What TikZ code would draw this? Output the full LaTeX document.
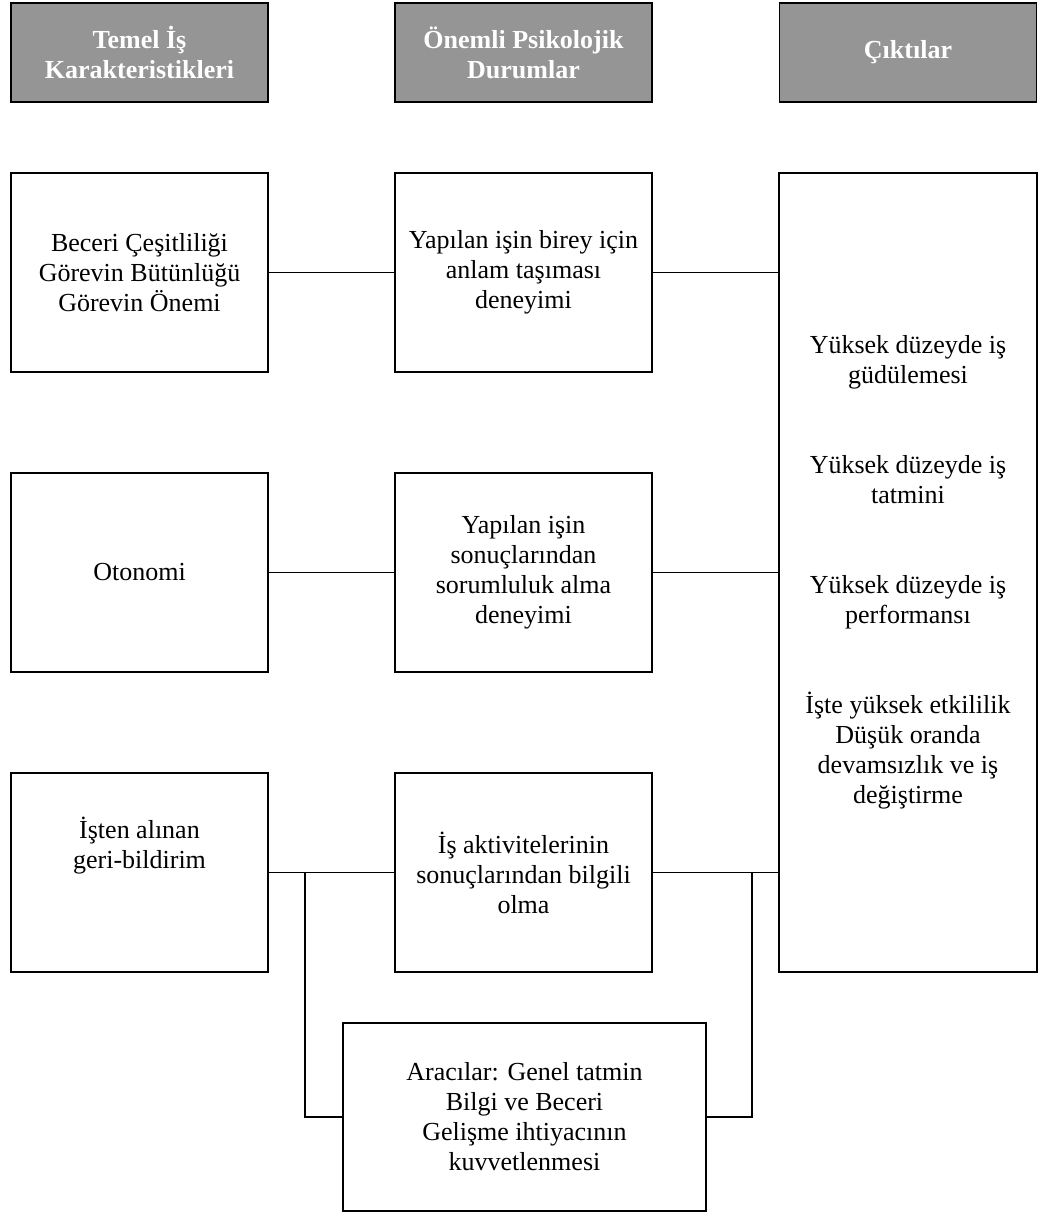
\documentclass[tikz,border=0pt]{standalone}
\usepackage{fontspec}
\setmainfont{Liberation Serif}
\usetikzlibrary{positioning,shadows}
\definecolor{baslikgri}{HTML}{959595}

\begin{document}
\begin{tikzpicture}[x=0.5pt, y=-0.5pt, line width=0.75pt,
  kutu/.style={draw, fill=white, align=center, inner sep=2pt,
    minimum width=128.5pt, minimum height=99.5pt,
    font=\fontsize{13}{15}\selectfont},
  baslik/.style={kutu, fill=baslikgri, minimum height=49.5pt,
    text=white, font=\fontsize{13}{15}\selectfont\bfseries,
    drop shadow={shadow xshift=0.4pt, shadow yshift=-0.6pt, fill=black, opacity=0.6}}]

  \useasboundingbox (0,0) rectangle (1044,1212);

  \newcommand\SolX{139.5}
  \newcommand\OrtaX{523.5}
  \newcommand\SagX{908}

  % basliklar
  \node[baslik] (hSol)  at (\SolX, 52.5)  {Temel İş\\Karakteristikleri};
  \node[baslik] (hOrta) at (\OrtaX, 52.5) {Önemli Psikolojik\\Durumlar};
  \node[baslik] (hSag)  at (\SagX, 52.5)  {Çıktılar};

  % sol sutun
  \node[kutu] (beceri)  at (\SolX, 272.5) {Beceri Çeşitliliği\\Görevin Bütünlüğü\\Görevin Önemi};
  \node[kutu] (otonomi) at (\SolX, 572.5) {Otonomi};
  \node[kutu] (geri)    at (\SolX, 872.5) {İşten alınan\\geri-bildirim\\[15pt]};

  % orta sutun
  \node[kutu] (anlam)  at (\OrtaX, 272.5) {Yapılan işin birey için\\anlam taşıması\\deneyimi};
  \node[kutu] (sorum)  at (\OrtaX, 572.5) {Yapılan işin\\sonuçlarından\\sorumluluk alma\\deneyimi};
  \node[kutu] (bilgi)  at (\OrtaX, 872.5) {İş aktivitelerinin\\sonuçlarından bilgili\\olma};
  \node[kutu, minimum width=181.5pt, minimum height=94pt] (aracilar) at (524.5, 1117)
    {Aracılar: Genel tatmin\\Bilgi ve Beceri\\Gelişme ihtiyacının\\kuvvetlenmesi};

  % sag sutun
  \node[kutu, minimum width=129pt, minimum height=399.5pt] (cikti) at (\SagX, 572.5)
    {Yüksek düzeyde iş\\güdülemesi\\[30pt]
     Yüksek düzeyde iş\\tatmini\\[30pt]
     Yüksek düzeyde iş\\performansı\\[30pt]
     İşte yüksek etkililik\\Düşük oranda\\devamsızlık ve iş\\değiştirme};

  \draw (beceri) -- (anlam);                 %% beceri->anlam
  \draw (anlam) -- (cikti.west |- anlam);    %% anlam->cikti
  \draw (otonomi) -- (sorum);                %% otonomi->sorum
  \draw (sorum) -- (cikti.west |- sorum);    %% sorum->cikti
  \draw (geri) -- (bilgi);                   %% geri->bilgi
  \draw (bilgi) -- (cikti.west |- bilgi);    %% bilgi->cikti

  \coordinate (solKol) at (305, 872.5);
  \coordinate (sagKol) at (752, 872.5);
  \draw (solKol) |- (aracilar.west);         %% geri->aracilar
  \draw (sagKol) |- (aracilar.east);         %% aracilar->cikti
\end{tikzpicture}
\end{document}
